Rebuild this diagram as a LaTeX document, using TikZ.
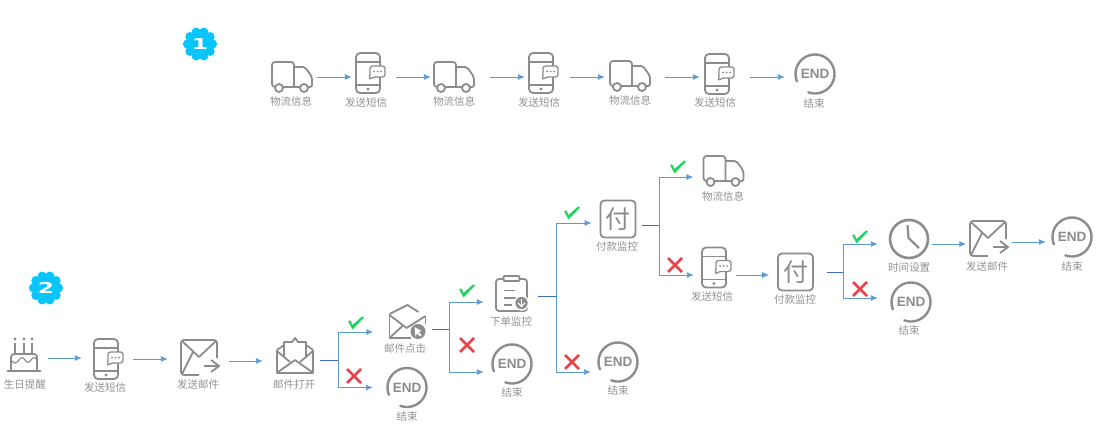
\documentclass[tikz,border=0pt]{standalone}
\usepackage{fontspec}
\usepackage{graphicx}
\newfontfamily\cjk{Noto Sans CJK SC}
\newfontfamily\endfont{Liberation Sans}
\newfontfamily\numfont{DejaVu Sans}
\usetikzlibrary{arrows.meta,calc}
\definecolor{myblue}{RGB}{91,155,213}
\definecolor{mydark}{RGB}{60,110,185}
\definecolor{mygray}{RGB}{140,140,140}
\definecolor{mytext}{RGB}{146,146,146}
\definecolor{mygreen}{RGB}{30,214,95}
\definecolor{myred}{RGB}{232,66,74}
\definecolor{mycyan}{RGB}{10,196,252}
\tikzset{
    line/.style   = {-{Latex[length=7pt,width=6pt]}, line width=0.9pt, draw=myblue},
    stem/.style   = {line width=0.9pt, draw=mydark},
    icon/.style   = {line width=1.8pt, draw=mygray, line join=round},
    lbl/.style    = {font=\cjk\fontsize{10.5}{12}\selectfont, text=mytext, inner sep=0pt},
    iconbox/.style = {minimum height=30pt, inner sep=0pt},
    truckbox/.style = {iconbox, minimum width=40pt},
    phonebox/.style = {iconbox, minimum width=29pt},
    mailbox/.style  = {iconbox, minimum width=38pt},
    openbox/.style  = {iconbox, minimum width=36pt},
    cakebox/.style  = {iconbox, minimum width=32pt},
    clipbox/.style  = {iconbox, minimum width=31pt},
    clockbox/.style = {iconbox, minimum width=40pt},
    endbox/.style = {circle, minimum size=42pt, inner sep=0pt, text=mygray,
            font=\endfont\bfseries\fontsize{13.5}{14}\selectfont},
    fubox/.style  = {draw=mygray, line width=1.8pt, rounded corners=4pt, minimum width=35pt,
            minimum height=37pt, inner sep=0pt, text=mygray, font=\cjk\fontsize{25}{26}\selectfont},
    badge/.style  = {inner sep=0pt, text=white, font=\numfont\bfseries\fontsize{15}{16}\selectfont},
    truck/.pic = {
        \draw[icon,rounded corners=3pt] (-17,10) -- (-20,10) -- (-20,-15) -- (2,-15) -- (2,10);
        \draw[icon,rounded corners=2pt] (2,-10) -- (13,-10) -- (20,0) -- (20,10) -- (16,10);
        \draw[icon] (-9,10) -- (8,10);
        \draw[icon,fill=white] (-13,11) circle (4);
        \draw[icon,fill=white] (12,11) circle (4);
    },
    phone/.pic = {
        \draw[icon,rounded corners=4pt] (-12,-20) rectangle (12,20);
        \draw[icon] (-12,-11) -- (12,-11);
        \draw[icon] (-12,12) -- (12,12);
        \fill[mygray] (0,16) circle (1.6);
        \draw[icon,fill=white,line width=1.3pt,rounded corners=2.5pt] (2,-7) -- (17,-7) -- (17,4) -- (5,4) -- (1,7) -- (2,3) -- cycle;
        \foreach \dx in {6,9.5,13} {\fill[mygray] (\dx,-1.5) circle (1);}
    },
    sendmail/.pic = {
        \draw[icon,rounded corners=3pt] (0,17) -- (-18,17) -- (-18,-18) -- (18,-18) -- (18,0);
        \draw[icon] (-17,-17) -- (0,-1) -- (17,-17);
        \draw[icon] (-17,16) -- (-6,-6);
        \draw[icon] (5,8) -- (20,8);
        \draw[icon] (12,2) -- (20,8) -- (12,14);
    },
    openmail/.pic = {
        \draw[icon] (-18,-7) -- (-18,16) -- (18,16) -- (18,-7);
        \draw[icon] (-18,-7) -- (-11,-12);
        \draw[icon] (18,-7) -- (11,-12);
        \draw[icon] (-11,0) -- (-11,-15) -- (-3,-15) -- (0,-19) -- (3,-15) -- (11,-15) -- (11,0);
        \draw[icon] (-18,-6) -- (-5,5);
        \draw[icon] (18,-6) -- (5,5);
        \draw[icon] (-17,15) -- (0,3) -- (17,15);
    },
    clickmail/.pic = {
        \draw[icon] (-18,-8) -- (-18,16) -- (3,16);
        \draw[icon] (-18,-8) -- (0,-17) -- (11,-10);
        \draw[icon] (18,-5) -- (18,2);
        \draw[icon] (-18,-7) -- (-1,6) -- (18,-6);
        \draw[icon] (-17,15) -- (-4,3);
        \fill[mygray] (10.5,9.5) circle (7.5);
        \fill[white] (7,5) -- (14,9) -- (11,10) -- (14,13) -- (12.5,14.5) -- (9.5,11.5) -- (8,14.5) -- cycle;
    },
    clipboard/.pic = {
        \draw[icon,rounded corners=3pt] (-8,-15) -- (-15.5,-15) -- (-15.5,17) -- (15.5,17) -- (15.5,-15) -- (8,-15);
        \draw[icon,fill=white,rounded corners=1pt] (-8,-18) rectangle (8,-13);
        \draw[icon] (-7.5,-3.5) -- (3.5,-3.5);
        \draw[icon] (-7.5,4) -- (5,4);
        \draw[icon] (-7.5,11) -- (0,11);
        \draw[draw=white,line width=1.5pt,fill=mygray] (10,9) circle (7);
        \draw[white,line width=1.4pt] (10,5) -- (10,12);
        \draw[white,line width=1.4pt] (6.5,9) -- (10,12.5) -- (13.5,9);
    },
    cake/.pic = {
        \draw[icon] (-17,16) -- (17,16);
        \draw[icon,rounded corners=3pt] (-13,16) -- (-13,-1) -- (13,-1) -- (13,16);
        \draw[icon,line width=1.2pt] (-13,5) .. controls (-10,9) and (-8,9) .. (-5,5) .. controls (-3,2) and (-1,2) .. (1,5) .. controls (3,8) and (5,8) .. (7,5) .. controls (9,2) and (11,2) .. (13,5);
        \foreach \dx in {-9,0,8} {
            \draw[icon,line width=1.3pt] (\dx,-12) -- (\dx,-1);
            \fill[mygray] (\dx,-16) circle (1.7);
        }
    },
    clock/.pic = {
        \draw[icon,line width=2.6pt] (0,0) circle (19);
        \draw[icon,line width=2.2pt] (-1.5,-14) -- (-0.5,-1) -- (10,9);
    },
    ring/.pic = {
        \draw[icon,line width=2.4pt,line cap=round] plot[smooth,domain=158:470,samples=40] ({19.5*cos(\x)},{19.5*sin(\x)});
    },
    tick/.pic = {
        \fill[mygreen] (-8,-2) -- (-5.5,-2.5) -- (-3.5,2) -- (6,-6.5) -- (8,-5.5) -- (-3.5,6.5) -- cycle;
    },
    cross/.pic = {
        \draw[myred,line width=2.6pt] (-7,-7) -- (7,7);
        \draw[myred,line width=2.6pt] (-7,7) -- (7,-7);
    },
    seal/.pic = {
        \fill[mycyan] (0,0) circle (14);
        \foreach \a in {0,36,...,324} {\fill[mycyan] (\a:12.5) circle (4.6);}
    },
}
\begin{document}
\begin{tikzpicture}[x=1pt,y=-1pt]
    \useasboundingbox (0,0) rectangle (1096,425);
    % Badges
    \pic at (200,44) {seal};
    \node[badge] (badge1) at (200,44) {\scalebox{1.55}[1]{1}};
    \pic at (46,288) {seal};
    \node[badge] (badge2) at (46,288) {\scalebox{1.55}[1]{2}};
    % First row
    \node[truckbox] (truck1) at (292,77) {};
    \pic at (292,77) {truck};
    \node[lbl] (truck1t) at (291,101) {物流信息};
    \node[phonebox] (sms1) at (370.5,77) {};
    \pic at (368,73) {phone};
    \node[lbl] (sms1t) at (366,103) {发送短信};
    \node[truckbox] (truck2) at (454,77) {};
    \pic at (454,77) {truck};
    \node[lbl] (truck2t) at (454,101) {物流信息};
    \node[phonebox] (sms2) at (543.5,77) {};
    \pic at (541,73) {phone};
    \node[lbl] (sms2t) at (539,103) {发送短信};
    \node[truckbox] (truck3) at (630,77) {};
    \pic at (630,76) {truck};
    \node[lbl] (truck3t) at (630,100) {物流信息};
    \node[phonebox] (sms3) at (719.5,77) {};
    \pic at (717,74) {phone};
    \node[lbl] (sms3t) at (715,103) {发送短信};
    \node[endbox] (end1) at (815,74) {END};
    \pic at (end1) {ring};
    \node[lbl] (end1t) at (814,104) {结束};
    % Second row
    \node[cakebox] (cake1) at (24,358) {};
    \pic at (24,355) {cake};
    \node[lbl] (cake1t) at (25,385) {生日提醒};
    \node[phonebox] (sms4) at (108.5,359) {};
    \pic at (106,359) {phone};
    \node[lbl] (sms4t) at (105,388) {发送短信};
    \node[mailbox] (mail1) at (199,361) {};
    \pic at (199,358) {sendmail};
    \node[lbl] (mail1t) at (198,385) {发送邮件};
    \node[openbox] (open1) at (295,360) {};
    \pic at (295,357) {openmail};
    \node[lbl] (open1t) at (294,385) {邮件打开};
    \coordinate (j1) at (338,360);
    \node[openbox] (click1) at (407.5,332) {};
    \pic at (407.5,322) {clickmail};
    \node[lbl] (click1t) at (405,349) {邮件点击};
    \node[endbox] (end2) at (407,387.5) {END};
    \pic at (end2) {ring};
    \node[lbl] (end2t) at (407,417) {结束};
    \coordinate (j2) at (449,329);
    \node[clipbox] (clip1) at (511.5,302) {};
    \pic at (511.5,294) {clipboard};
    \node[lbl] (clip1t) at (511,321) {下单监控};
    \node[endbox] (end3) at (512,364) {END};
    \pic at (end3) {ring};
    \node[lbl] (end3t) at (512,393) {结束};
    \coordinate (j3) at (556,296);
    \node[fubox] (fu1) at (618,219) {付};
    \node[lbl] (fu1t) at (617,247) {付款监控};
    \node[endbox] (end4) at (618,362) {END};
    \pic at (end4) {ring};
    \node[lbl] (end4t) at (618,391) {结束};
    \coordinate (j4) at (659,225);
    \node[truckbox] (truck4) at (723.5,177) {};
    \pic at (723.5,171) {truck};
    \node[lbl] (truck4t) at (723,196) {物流信息};
    \node[phonebox] (sms5) at (716.5,275) {};
    \pic at (714,267.5) {phone};
    \node[lbl] (sms5t) at (712,297) {发送短信};
    \node[fubox] (fu2) at (795.5,272) {付};
    \node[lbl] (fu2t) at (795,300) {付款监控};
    \coordinate (j5) at (843,272);
    \node[clockbox] (clock1) at (909,244) {};
    \pic at (909,239) {clock};
    \node[lbl] (clock1t) at (909,268) {时间设置};
    \node[endbox] (end5) at (911,302) {END};
    \pic at (end5) {ring};
    \node[lbl] (end5t) at (909,331) {结束};
    \node[mailbox] (mail2) at (988.5,242) {};
    \pic at (988,239) {sendmail};
    \node[lbl] (mail2t) at (987,267) {发送邮件};
    \node[endbox] (end6) at (1072,237) {END};
    \pic at (end6) {ring};
    \node[lbl] (end6t) at (1072,267) {结束};
    % Arrows first row
    \draw[line,shorten <=5pt,shorten >=4pt] (truck1.east) -- (truck1.east -| sms1.west);
    \draw[line,shorten <=11pt,shorten >=3pt] (sms1.east) -- (sms1.east -| truck2.west);
    \draw[line,shorten <=16pt,shorten >=4pt] (truck2.east) -- (truck2.east -| sms2.west);
    \draw[line,shorten <=12pt,shorten >=5pt] (sms2.east) -- (sms2.east -| truck3.west);
    \draw[line,shorten <=15pt,shorten >=5pt] (truck3.east) -- (truck3.east -| sms3.west);
    \draw[line,shorten <=16pt,shorten >=9pt] (sms3.east) -- (sms3.east -| end1.west);
    % Arrows second row
    \draw[line,shorten <=8pt,shorten >=12pt] (cake1.east) -- (cake1.east -| sms4.west);
    \draw[line,shorten <=10pt,shorten >=12pt] (sms4.east) -- (sms4.east -| mail1.west);
    \draw[line,shorten <=11pt,shorten >=14pt] (mail1.east) -- (mail1.east -| open1.west);
    \draw[stem,shorten <=7pt] (open1.east) -- (j1);
    \draw[line,shorten >=16pt] (j1) |- (click1.west);
    \draw[line,shorten >=13pt] (j1) |- (end2.west);
    \draw[stem,shorten <=6pt] (j2 -| click1.east) -- (j2);
    \draw[line,shorten >=12pt] (j2) |- (clip1.west);
    \draw[line,shorten >=7pt] (j2) |- ([yshift=-8pt]end3.west);
    \draw[stem,shorten <=11pt] (j3 -| clip1.east) -- (j3);
    \draw[line,shorten >=8pt] (j3) |- ([yshift=-4pt]fu1.west);
    \draw[line,shorten >=6pt] (j3) |- ([yshift=-10pt]end4.west);
    \draw[stem,shorten <=6pt] (j4 -| fu1.east) -- (j4);
    \draw[line,shorten >=10pt] (j4) |- (truck4.west);
    \draw[line,shorten >=8pt] (j4) |- (sms5.west);
    \draw[line,shorten <=5pt,shorten >=8pt] (sms5.east) -- (sms5.east -| fu2.west);
    \draw[stem,shorten <=13pt] (j5 -| fu2.east) -- (j5);
    \draw[line,shorten >=11pt] (j5) |- (clock1.west);
    \draw[line,shorten >=12pt] (j5) |- ([yshift=4pt]end5.west);
    \draw[line,shorten <=3pt,shorten >=3pt] (clock1.east) -- (clock1.east -| mail2.west);
    \draw[line,shorten <=4pt,shorten >=5pt] (mail2.east) -- (mail2.east -| end6.west);
    % Marks
    \pic at (356,323) {tick};
    \pic at (354,376) {cross};
    \pic at (467,291) {tick};
    \pic at (467,345) {cross};
    \pic at (572,213) {tick};
    \pic at (572,362) {cross};
    \pic at (678,167) {tick};
    \pic at (675,265) {cross};
    \pic at (860,237) {tick};
    \pic at (860,289) {cross};
\end{tikzpicture}
\end{document}
